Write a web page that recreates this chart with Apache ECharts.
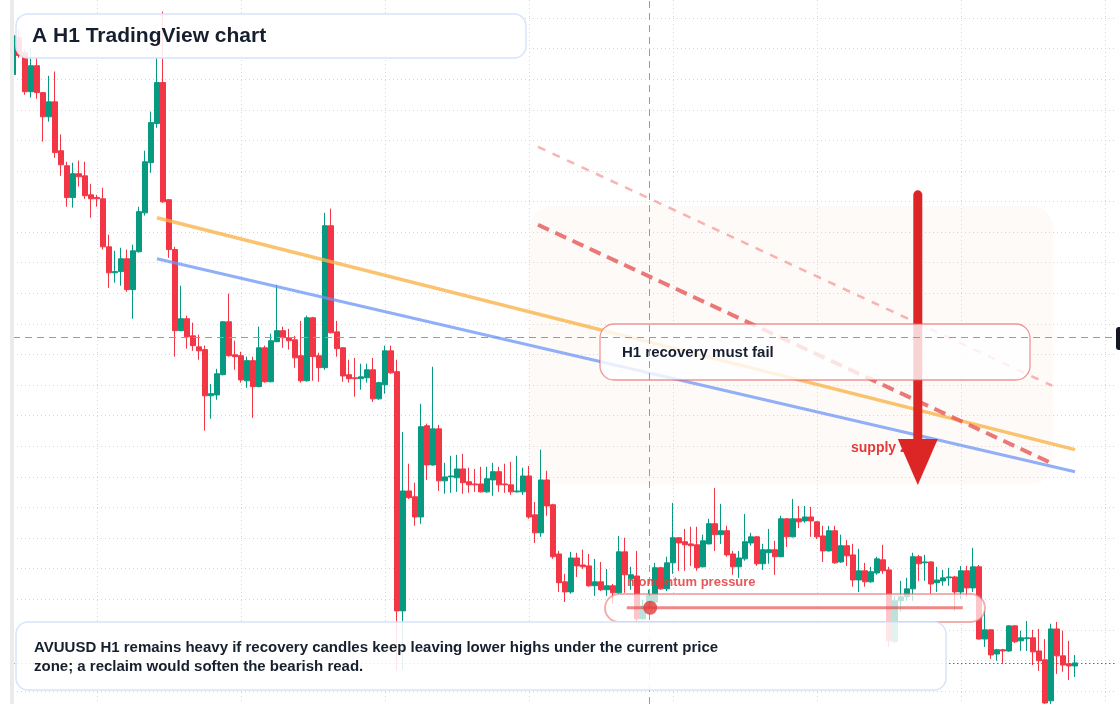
<!DOCTYPE html>
<html>
<head>
<meta charset="utf-8">
<title>AVUUSD H1</title>
<script src="https://cdn.jsdelivr.net/npm/echarts@6/dist/echarts.min.js"></script>
<style>
  html, body { margin: 0; padding: 0; background: #ffffff; }
  #main { width: 1120px; height: 704px; }
</style>
</head>
<body>
<div id="main"></div>
<script>
// AVUUSD H1 candles (one value per hour)
var opens = [
  2611.5, 2623.6, 2618.7, 2605.9, 2614.4, 2605.6, 2597.7, 2602.6, 2586.6, 2581.7,
  2571.3, 2579.1, 2578.4, 2572.2, 2571.3, 2570.9, 2555.2, 2546.7, 2547.1, 2551.3,
  2541.2, 2553.6, 2566.3, 2582.7, 2595.5, 2608.9, 2570.6, 2554.3, 2527.8, 2531.7,
  2526.1, 2522.5, 2521.6, 2506.5, 2506.8, 2513.4, 2530.7, 2519.9, 2519.6, 2511.4,
  2518.0, 2509.5, 2522.2, 2511.1, 2524.2, 2527.8, 2525.5, 2524.8, 2519.6, 2511.4,
  2532.0, 2519.6, 2515.7, 2562.1, 2527.4, 2522.2, 2513.4, 2512.4, 2512.1, 2512.4,
  2515.0, 2505.5, 2510.1, 2521.2, 2514.4, 2436.2, 2475.4, 2473.5, 2466.9, 2496.7,
  2483.9, 2495.7, 2478.7, 2480.0, 2479.7, 2482.6, 2478.4, 2477.7, 2477.7, 2475.1,
  2479.0, 2481.7, 2477.7, 2477.4, 2475.1, 2475.1, 2480.3, 2467.6, 2461.7, 2479.0,
  2470.9, 2454.8, 2445.7, 2442.4, 2453.5, 2451.2, 2450.9, 2444.4, 2445.7, 2443.1,
  2444.4, 2442.1, 2455.5, 2446.7, 2447.6, 2433.6, 2437.8, 2439.1, 2450.3, 2443.4,
  2451.9, 2460.1, 2458.8, 2458.1, 2457.8, 2450.6, 2458.1, 2464.7, 2461.1, 2462.4,
  2454.8, 2450.6, 2453.2, 2458.4, 2460.4, 2451.6, 2455.2, 2456.2, 2453.9, 2466.3,
  2460.4, 2466.3, 2465.6, 2466.9, 2465.3, 2460.7, 2455.8, 2462.4, 2452.2, 2457.5,
  2454.5, 2446.3, 2449.3, 2445.7, 2448.6, 2452.9, 2449.6, 2426.1, 2439.5, 2440.8,
  2443.4, 2453.9, 2451.9, 2452.2, 2445.4, 2446.0, 2447.0, 2447.3, 2442.4, 2449.3,
  2443.7, 2450.6, 2427.0, 2430.0, 2422.1, 2423.5, 2423.1, 2431.3, 2426.4, 2427.1,
  2427.4, 2423.1, 2420.2, 2406.8, 2430.3, 2421.5, 2418.9, 2418.2
]
var closes = [
  2624.2, 2617.7, 2605.9, 2614.4, 2605.6, 2597.7, 2602.6, 2586.0, 2582.0, 2571.3,
  2579.1, 2578.1, 2571.9, 2570.9, 2570.9, 2555.2, 2546.7, 2547.1, 2551.3, 2541.2,
  2553.9, 2566.7, 2583.0, 2595.8, 2608.9, 2569.9, 2554.3, 2527.8, 2531.7, 2525.8,
  2522.9, 2521.2, 2506.5, 2507.2, 2513.7, 2530.7, 2519.6, 2519.3, 2511.7, 2518.0,
  2509.5, 2522.2, 2511.1, 2524.5, 2527.8, 2525.5, 2524.5, 2518.9, 2511.4, 2532.0,
  2519.3, 2515.7, 2562.1, 2527.1, 2521.9, 2513.0, 2512.1, 2512.1, 2512.7, 2515.0,
  2505.5, 2510.8, 2521.2, 2514.0, 2436.2, 2475.4, 2473.2, 2466.9, 2496.4, 2483.9,
  2495.7, 2478.7, 2480.0, 2480.3, 2482.6, 2478.1, 2477.4, 2477.4, 2475.1, 2479.4,
  2481.7, 2477.4, 2477.4, 2475.1, 2475.4, 2480.3, 2466.9, 2461.7, 2479.0, 2470.5,
  2453.9, 2445.4, 2442.4, 2453.5, 2450.9, 2450.6, 2444.4, 2445.7, 2443.1, 2444.4,
  2442.1, 2455.5, 2448.0, 2448.0, 2433.6, 2437.8, 2441.4, 2450.3, 2443.4, 2451.9,
  2460.1, 2458.4, 2457.8, 2457.5, 2450.3, 2459.1, 2464.7, 2461.1, 2462.4, 2454.5,
  2450.6, 2453.5, 2458.8, 2460.4, 2451.6, 2456.2, 2456.2, 2453.9, 2466.3, 2460.4,
  2466.3, 2465.3, 2466.9, 2465.6, 2460.4, 2455.8, 2462.4, 2451.9, 2457.5, 2454.2,
  2446.3, 2449.3, 2445.7, 2449.0, 2453.2, 2449.3, 2426.4, 2439.5, 2440.8, 2443.4,
  2453.9, 2451.6, 2452.2, 2445.0, 2446.3, 2447.0, 2447.3, 2442.4, 2449.3, 2443.7,
  2450.6, 2427.0, 2430.0, 2421.8, 2423.5, 2423.1, 2431.3, 2426.1, 2427.4, 2427.4,
  2422.8, 2419.9, 2406.1, 2430.3, 2421.5, 2418.5, 2418.2, 2419.2
]
var lows = [
  2611.1, 2617.0, 2604.9, 2604.0, 2603.6, 2589.6, 2596.1, 2584.3, 2578.4, 2568.3,
  2568.0, 2574.9, 2570.9, 2564.7, 2568.3, 2554.3, 2541.8, 2543.5, 2542.5, 2540.5,
  2531.7, 2553.3, 2565.4, 2579.4, 2594.1, 2569.6, 2551.6, 2519.3, 2527.6, 2521.9,
  2521.2, 2518.3, 2495.1, 2499.0, 2505.2, 2513.2, 2519.3, 2515.0, 2510.8, 2509.1,
  2499.3, 2509.3, 2510.8, 2510.9, 2524.0, 2522.2, 2521.6, 2515.7, 2510.8, 2511.2,
  2511.4, 2511.1, 2515.0, 2526.9, 2519.3, 2511.1, 2510.8, 2506.2, 2508.5, 2510.8,
  2504.5, 2505.2, 2507.2, 2513.7, 2416.6, 2416.9, 2472.8, 2464.0, 2464.7, 2479.0,
  2483.6, 2475.4, 2474.5, 2474.8, 2475.1, 2474.5, 2474.8, 2475.1, 2474.9, 2474.8,
  2473.8, 2475.1, 2474.8, 2474.1, 2474.9, 2474.1, 2466.3, 2458.4, 2460.4, 2467.3,
  2453.2, 2442.4, 2439.1, 2441.8, 2447.3, 2449.9, 2444.1, 2441.1, 2442.7, 2441.1,
  2438.5, 2441.8, 2442.1, 2443.1, 2432.0, 2433.3, 2436.5, 2438.5, 2443.1, 2442.7,
  2448.3, 2449.3, 2449.3, 2450.9, 2449.3, 2450.4, 2457.9, 2455.8, 2458.1, 2453.9,
  2448.0, 2447.0, 2452.6, 2457.5, 2450.9, 2449.6, 2451.6, 2448.0, 2453.7, 2457.1,
  2460.2, 2463.3, 2465.0, 2460.4, 2459.7, 2452.2, 2455.6, 2451.6, 2451.9, 2450.9,
  2444.1, 2442.4, 2444.1, 2445.4, 2448.0, 2448.3, 2424.4, 2425.7, 2435.9, 2439.5,
  2439.5, 2446.0, 2446.0, 2441.8, 2442.4, 2444.4, 2444.4, 2436.2, 2440.1, 2440.8,
  2442.4, 2426.8, 2424.4, 2420.5, 2419.9, 2418.9, 2422.8, 2425.7, 2423.1, 2423.1,
  2418.5, 2416.6, 2405.8, 2405.8, 2415.6, 2416.3, 2413.6, 2414.6
]
var highs = [
  2624.6, 2626.2, 2619.7, 2620.3, 2617.0, 2605.8, 2611.1, 2612.5, 2591.9, 2583.0,
  2582.7, 2583.4, 2583.0, 2575.8, 2572.2, 2574.5, 2559.2, 2553.9, 2554.9, 2554.3,
  2555.9, 2568.3, 2586.6, 2599.4, 2617.0, 2632.1, 2570.8, 2555.2, 2542.5, 2532.7,
  2530.4, 2526.5, 2522.9, 2510.4, 2515.3, 2530.9, 2539.9, 2524.5, 2520.9, 2519.3,
  2519.3, 2529.1, 2522.9, 2526.8, 2542.8, 2529.1, 2528.4, 2526.1, 2531.0, 2532.7,
  2532.3, 2520.6, 2566.3, 2567.7, 2531.0, 2522.4, 2518.3, 2518.9, 2517.0, 2517.0,
  2518.9, 2511.1, 2522.9, 2522.9, 2518.3, 2494.7, 2484.3, 2478.1, 2503.9, 2497.4,
  2516.0, 2497.0, 2484.6, 2486.9, 2487.2, 2487.5, 2483.0, 2482.6, 2483.3, 2483.3,
  2484.6, 2483.3, 2484.3, 2484.9, 2486.9, 2483.0, 2483.6, 2471.8, 2488.9, 2482.0,
  2471.2, 2455.8, 2448.3, 2455.5, 2455.2, 2456.2, 2454.8, 2453.2, 2452.2, 2449.9,
  2445.0, 2460.7, 2460.1, 2450.6, 2455.8, 2439.8, 2443.1, 2451.9, 2450.6, 2453.9,
  2471.5, 2460.3, 2463.0, 2463.7, 2463.7, 2461.1, 2466.3, 2476.4, 2471.2, 2464.0,
  2455.8, 2455.8, 2467.9, 2461.7, 2460.7, 2458.1, 2463.0, 2459.1, 2467.3, 2466.5,
  2472.8, 2470.5, 2470.5, 2470.2, 2465.5, 2464.0, 2464.0, 2464.0, 2461.1, 2459.4,
  2458.1, 2456.5, 2451.9, 2450.6, 2453.9, 2457.8, 2450.6, 2441.1, 2446.0, 2447.0,
  2455.2, 2454.5, 2454.5, 2452.4, 2450.6, 2449.6, 2450.3, 2447.6, 2450.9, 2450.9,
  2456.8, 2451.2, 2436.2, 2430.2, 2423.8, 2423.8, 2431.5, 2431.5, 2429.7, 2432.9,
  2430.0, 2430.3, 2427.0, 2432.0, 2432.6, 2429.7, 2426.4, 2421.8
]

// hourly slots; the last few are empty room on the right
var slotCount = 185
var categories = []
for (var s = 0; s < slotCount; s++) {
  var d = new Date(Date.UTC(2024, 4, 6, 0) + s * 3600000)
  categories.push(d.toISOString().slice(5, 16).replace('T', ' '))
}

// visible price window and grid step
var priceBottom = 2405.76
var priceTop = 2635.88
var priceStep = 10

// drawings, as [slot, price]
var resistanceLine = [[24, 2564.7], [177, 2488.9]]
var trendLine = [[24, 2551.3], [177, 2481.7]]
var lowerHighs = [[87.5, 2562.4], [173.3, 2484.3]]
var upperChannel = [[87.5, 2587.9], [173.2, 2509.8]]
var supplyZone = [86.2, 173.3, 2568.6, 2477.7] // slot from, slot to, top, bottom
var pushDown = [[150.8, 2572.2], [150.8, 2484.9]]
var momentumLine = [[102.3, 2437.2], [158.3, 2437.2]]
var momentumDot = [106.2, 2437.2]
var cursorSlot = 106
var cursorPrice = 2525.5
var lastClose = closes[closes.length - 1]

var candles = opens.map(function (o, i) {
  return [o, closes[i], lows[i], highs[i]]
})

var font = '"Liberation Sans", Arial, sans-serif'
var ink = '#161f2e'
var gridLine = { color: '#d2d5da', width: 1, type: [1, 3] }

function toolLine (points, color, width, type, z) {
  return {
    type: 'line',
    xAxisIndex: 1,
    data: points,
    symbol: 'none',
    silent: true,
    z: z,
    lineStyle: { color: color, width: width, type: type }
  }
}

var chart = echarts.init(document.getElementById('main'))
chart.setOption({
  animation: false,
  backgroundColor: '#ffffff',
  grid: { left: 13, right: 3, top: 0, bottom: 0 },
  xAxis: [
    {
      type: 'category',
      data: categories,
      boundaryGap: false,
      axisLine: { show: false },
      axisTick: { show: false },
      axisLabel: { show: false },
      splitLine: {
        show: true,
        interval: function (index) { return index % 24 === 14 },
        lineStyle: gridLine
      }
    },
    { type: 'value', min: 0, max: slotCount - 1, show: false }
  ],
  yAxis: {
    type: 'value',
    position: 'right',
    min: priceBottom,
    max: priceTop,
    splitNumber: 23,
    minInterval: priceStep,
    maxInterval: priceStep,
    axisLine: { show: false },
    axisTick: { show: false },
    axisLabel: { show: false },
    splitLine: { show: true, showMinLine: false, showMaxLine: false, lineStyle: gridLine }
  },
  series: [
    {
      type: 'custom',
      xAxisIndex: 1,
      z: 1,
      silent: true,
      data: [supplyZone],
      encode: { x: [0, 1], y: [2, 3] },
      renderItem: function (params, api) {
        var a = api.coord([api.value(0), api.value(2)])
        var b = api.coord([api.value(1), api.value(3)])
        return {
          type: 'rect',
          shape: { x: a[0], y: a[1], width: b[0] - a[0], height: b[1] - a[1], r: 22 },
          style: { fill: 'rgba(246,222,204,0.16)' }
        }
      }
    },
    {
      type: 'candlestick',
      data: candles,
      barWidth: 5,
      z: 2,
      silent: true,
      itemStyle: {
        color: '#089981',
        color0: '#f23645',
        borderColor: '#089981',
        borderColor0: '#f23645',
        borderWidth: 1
      },
      markLine: {
        silent: true,
        symbol: ['none', 'none'],
        label: { show: false },
        lineStyle: { color: '#089981', width: 1.2, type: [1.5, 2.5], opacity: 1 },
        data: [{ yAxis: lastClose }]
      }
    },
    {
      type: 'line',
      xAxisIndex: 1,
      data: [[cursorSlot, cursorPrice]],
      symbol: 'none',
      silent: true,
      z: 3,
      markLine: {
        silent: true,
        symbol: ['none', 'none'],
        label: { show: false },
        lineStyle: { color: '#9b9b9b', width: 1, type: [7, 5] },
        data: [{ xAxis: cursorSlot }, { yAxis: cursorPrice }]
      }
    },
    toolLine(resistanceLine, 'rgba(250,178,70,0.78)', 3.5, 'solid', 3),
    toolLine(trendLine, 'rgba(108,148,245,0.75)', 3, 'solid', 3),
    toolLine(upperChannel, 'rgba(238,120,120,0.55)', 2.5, [8, 8], 3),
    toolLine(lowerHighs, 'rgba(230,88,88,0.8)', 4, [12, 7], 3),
    {
      type: 'line',
      xAxisIndex: 1,
      silent: true,
      z: 3,
      symbol: 'none',
      lineStyle: { color: '#dc2626', width: 9, cap: 'round' },
      itemStyle: { color: '#dc2626' },
      data: [
        { value: pushDown[0], symbol: 'none' },
        { value: pushDown[1], symbol: 'triangle', symbolSize: [40, 46], symbolRotate: 180 }
      ]
    },
    toolLine(momentumLine, 'rgba(226,72,72,0.65)', 3, 'solid', 6),
    {
      type: 'scatter',
      xAxisIndex: 1,
      silent: true,
      z: 6,
      symbolSize: 14,
      itemStyle: { color: '#e23b3b' },
      data: [momentumDot]
    }
  ],
  graphic: [
    // supply zone label, under the arrow
    { type: 'text', z: 2, x: 851, y: 448, style: { text: 'supply zone', font: 'bold 14px ' + font, fill: '#e23b3b', verticalAlign: 'middle' } },
    // callout
    { type: 'rect', z: 4, shape: { x: 600, y: 324, width: 430, height: 56, r: 14 }, style: { fill: 'rgba(255,255,255,0.8)', stroke: 'rgba(232,96,96,0.65)', lineWidth: 1.3 } },
    { type: 'text', z: 5, x: 622, y: 353, style: { text: 'H1 recovery must fail', font: 'bold 15px ' + font, fill: ink, verticalAlign: 'middle' } },
    // momentum pill
    { type: 'rect', z: 5, shape: { x: 605, y: 594, width: 380, height: 28, r: 14 }, style: { fill: 'rgba(255,255,255,0.72)', stroke: 'rgba(232,110,110,0.55)', lineWidth: 2 } },
    { type: 'text', z: 6, x: 627, y: 582, style: { text: 'momentum pressure', font: 'bold 13px ' + font, fill: 'rgba(228,58,58,0.85)', verticalAlign: 'middle' } },
    // title
    { type: 'rect', z: 7, shape: { x: 16, y: 14, width: 510, height: 44, r: 12 }, style: { fill: 'rgba(255,255,255,0.88)', stroke: '#d8e4fa', lineWidth: 1.5 } },
    { type: 'text', z: 8, x: 32, y: 36, style: { text: 'A H1 TradingView chart', font: 'bold 21px ' + font, fill: ink, verticalAlign: 'middle' } },
    // note at the bottom
    { type: 'rect', z: 7, shape: { x: 16, y: 622, width: 930, height: 68, r: 12 }, style: { fill: 'rgba(255,255,255,0.88)', stroke: '#d8e4fa', lineWidth: 1.5 } },
    { type: 'text', z: 8, x: 34, y: 648, style: { text: 'AVUUSD H1 remains heavy if recovery candles keep leaving lower highs under the current price', font: 'bold 15px ' + font, fill: ink, verticalAlign: 'middle' } },
    { type: 'text', z: 8, x: 34, y: 667, style: { text: 'zone; a reclaim would soften the bearish read.', font: 'bold 15px ' + font, fill: ink, verticalAlign: 'middle' } },
    // left edge strip and cursor price tag
    { type: 'rect', z: 9, shape: { x: 10, y: 0, width: 4, height: 704 }, style: { fill: '#ebebeb' } },
    { type: 'rect', z: 9, shape: { x: 1116, y: 327, width: 20, height: 23, r: 3 }, style: { fill: '#131722' } }
  ]
})
</script>
</body>
</html>
